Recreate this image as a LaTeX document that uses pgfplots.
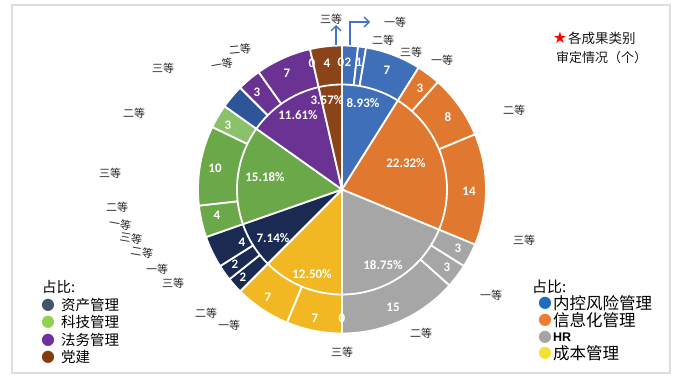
\documentclass[border=0pt]{standalone}
\usepackage{pgfplots}
\pgfplotsset{compat=1.18}
\usetikzlibrary{arrows.meta}
\usepackage{fontspec}
\setmainfont{Carlito}
\newfontfamily\cjk{Noto Sans CJK SC}
\newfontfamily\dejavu{DejaVu Sans}
\newfontfamily\arialf{Liberation Sans}
\definecolor{cBlue}{HTML}{3F6FB8}
\definecolor{cOrange}{HTML}{E0782F}
\definecolor{cGrey}{HTML}{A6A6A6}
\definecolor{cYellow}{HTML}{F1B823}
\definecolor{cNavy}{HTML}{1B2A52}
\definecolor{cGreen}{HTML}{6BA84A}
\definecolor{cLGreen}{HTML}{8BC16A}
\definecolor{cSteel}{HTML}{2E5597}
\definecolor{cPurple}{HTML}{6A3393}
\definecolor{cBrown}{HTML}{8B4419}
\definecolor{lgSlate}{HTML}{44546A}
\definecolor{lgGreen}{HTML}{92D050}
\definecolor{lgPurple}{HTML}{7030A0}
\definecolor{lgBrown}{HTML}{843C0C}
\definecolor{lgBlue}{HTML}{1F6BC0}
\definecolor{lgOrange}{HTML}{ED7D31}
\definecolor{lgGrey}{HTML}{A5A5A5}
\definecolor{lgYellow}{HTML}{F2E234}
\definecolor{arrowC}{HTML}{4472C4}
% sector: start count, end count (of 112), radius, colour
\newcommand{\sect}[4]{\addplot[fill=#4, draw=white, line width=1.8pt, line join=round, domain={90-360*(#2)/112}:{90-360*(#1)/112}, samples=60] ({342+#3*cos(x)},{-189.5+#3*sin(x)}) -- (342,-189.5) -- cycle;}
\newcommand{\num}[3]{\node[text=white, font=\bfseries\fontsize{13}{13}\selectfont, inner sep=0pt] at (#1,-#2) {#3};}
\newcommand{\lab}[4][0]{\node[text=black!85, rotate=#1, font=\cjk\fontsize{11}{11}\selectfont, inner sep=0pt] at (#2,-#3) {#4};}
\begin{document}
\begin{tikzpicture}
\begin{axis}[hide axis, scale only axis, width=680pt, height=381pt,
  xmin=0, xmax=680, ymin=-381, ymax=0, clip=false, no markers]
\path (0,0) rectangle (680,-381);
\draw[color=black!13, line width=1.5pt] (12,-5) rectangle (670,-373);
% outer ring
\sect{0}{2}{144}{cBlue}
\sect{2}{3}{144}{cBlue}
\sect{3}{10}{144}{cBlue}
\sect{10}{13}{144}{cOrange}
\sect{13}{21}{144}{cOrange}
\sect{21}{35}{144}{cOrange}
\sect{35}{38}{144}{cGrey}
\sect{38}{41}{144}{cGrey}
\sect{41}{56}{144}{cGrey}
\sect{56}{63}{144}{cYellow}
\sect{63}{70}{144}{cYellow}
\sect{70}{72}{144}{cNavy}
\sect{72}{74}{144}{cNavy}
\sect{74}{78}{144}{cNavy}
\sect{78}{82}{144}{cGreen}
\sect{82}{92}{144}{cGreen}
\sect{92}{95}{144}{cLGreen}
\sect{95}{98}{144}{cSteel}
\sect{98}{101}{144}{cPurple}
\sect{101}{108}{144}{cPurple}
\sect{108}{112}{144}{cBrown}
% inner ring
\sect{0}{10}{105}{cBlue}
\sect{10}{35}{105}{cOrange}
\sect{35}{56}{105}{cGrey}
\sect{56}{70}{105}{cYellow}
\sect{70}{78}{105}{cNavy}
\sect{78}{95}{105}{cGreen}
\sect{95}{108}{105}{cPurple}
\sect{108}{112}{105}{cBrown}
% percentages
\num{327}{100}{3.57\%}
\num{363}{103}{8.93\%}
\num{406}{163}{22.32\%}
\num{383}{265}{18.75\%}
\num{312}{274}{12.50\%}
\num{273}{238}{7.14\%}
\num{265}{177}{15.18\%}
\num{298}{115}{11.61\%}
% outer numbers
\num{312}{63}{0}
\num{327}{63}{4}
\num{341}{62}{0}
\num{348}{62}{2}
\num{359}{62}{1}
\num{387}{70}{7}
\num{420}{88}{3}
\num{448}{117}{8}
\num{469}{191}{14}
\num{458}{248}{3}
\num{447}{267}{3}
\num{393}{307}{15}
\num{342}{318}{0}
\num{315}{318}{7}
\num{268}{297}{7}
\num{243}{277}{2}
\num{235}{264}{2}
\num{242}{242}{4}
\num{217}{215}{4}
\num{215}{168}{10}
\num{228}{125}{3}
\num{257}{92}{3}
\num{287}{73}{7}
% arrows
\draw[arrowC, line width=1.4pt, -{Straight Barb[length=5pt,width=10pt]}] (336,-45) -- (336,-25);
\draw[arrowC, line width=1.4pt, -{Straight Barb[length=5pt,width=10pt]}] (350,-45) -- (350,-22) -- (370,-22);
% outer category labels
\lab{331}{19}{三等}
\lab{395}{22}{一等}
\lab{383}{40}{二等}
\lab{411}{52}{三等}
\lab{442}{60}{一等}
\lab{514}{110}{二等}
\lab{524}{240}{三等}
\lab{491}{295}{一等}
\lab{421}{333}{二等}
\lab{342}{352}{三等}
\lab{229}{325}{一等}
\lab{206}{313}{二等}
\lab{173}{283}{三等}
\lab{157}{269}{一等}
\lab[-10]{120}{224}{一等}
\lab[-10]{131}{238}{三等}
\lab[-10]{142}{252}{二等}
\lab{117}{207}{二等}
\lab{110}{173}{三等}
\lab{134}{113}{二等}
\lab{163}{68}{三等}
\lab[5]{240}{49}{二等}
\lab[10]{222}{64}{一等}
% top-right note
\node[text=red, font=\dejavu\fontsize{16}{16}\selectfont, inner sep=0pt] at (560,-38) {★};
\node[anchor=west, text=black!90, font=\cjk\fontsize{13.5}{13.5}\selectfont, inner sep=0pt] at (568,-38) {各成果类别};
\node[anchor=west, text=black!90, font=\cjk\fontsize{13}{13}\selectfont, inner sep=0pt] at (556,-58) {审定情况（个）};
% left legend
\node[anchor=west, text=black, font=\cjk\fontsize{14.5}{14.5}\selectfont, inner sep=0pt] at (42,-287) {占比:};
\node[text=lgSlate, font=\dejavu\fontsize{16}{16}\selectfont, inner sep=0pt] at (48,-305) {●};
\node[text=lgGreen, font=\dejavu\fontsize{16}{16}\selectfont, inner sep=0pt] at (48,-322) {●};
\node[text=lgPurple, font=\dejavu\fontsize{16}{16}\selectfont, inner sep=0pt] at (48,-340) {●};
\node[text=lgBrown, font=\dejavu\fontsize{16}{16}\selectfont, inner sep=0pt] at (48,-357) {●};
\node[anchor=west, text=black, font=\cjk\fontsize{14.5}{14.5}\selectfont, inner sep=0pt] at (61,-305) {资产管理};
\node[anchor=west, text=black, font=\cjk\fontsize{14.5}{14.5}\selectfont, inner sep=0pt] at (61,-322) {科技管理};
\node[anchor=west, text=black, font=\cjk\fontsize{14.5}{14.5}\selectfont, inner sep=0pt] at (61,-340) {法务管理};
\node[anchor=west, text=black, font=\cjk\fontsize{14.5}{14.5}\selectfont, inner sep=0pt] at (61,-357) {党建};
% right legend
\node[anchor=west, text=black, font=\cjk\fontsize{15}{15}\selectfont, inner sep=0pt] at (532,-287) {占比:};
\node[text=lgBlue, font=\dejavu\fontsize{16}{16}\selectfont, inner sep=0pt] at (545,-303) {●};
\node[text=lgOrange, font=\dejavu\fontsize{16}{16}\selectfont, inner sep=0pt] at (545,-320) {●};
\node[text=lgGrey, font=\dejavu\fontsize{16}{16}\selectfont, inner sep=0pt] at (545,-337) {●};
\node[text=lgYellow, font=\dejavu\fontsize{16}{16}\selectfont, inner sep=0pt] at (545,-353) {●};
\node[anchor=west, text=black, font=\cjk\fontsize{16.5}{16.5}\selectfont, inner sep=0pt] at (553,-303) {内控风险管理};
\node[anchor=west, text=black, font=\cjk\fontsize{16.5}{16.5}\selectfont, inner sep=0pt] at (553,-320) {信息化管理};
\node[anchor=west, text=black, font=\arialf\bfseries\fontsize{12.5}{12.5}\selectfont, inner sep=0pt] at (553,-337) {HR};
\node[anchor=west, text=black, font=\cjk\fontsize{16.5}{16.5}\selectfont, inner sep=0pt] at (553,-353) {成本管理};
\end{axis}
\end{tikzpicture}
\end{document}
